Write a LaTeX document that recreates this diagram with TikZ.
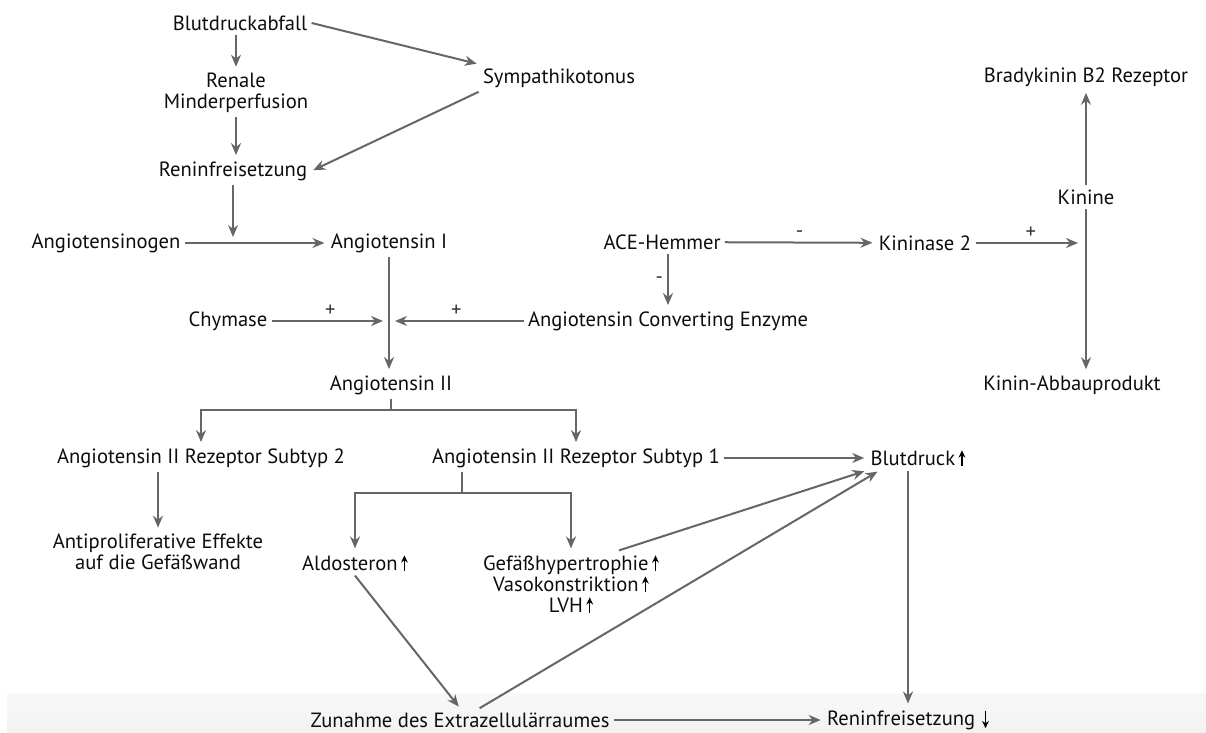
\documentclass[tikz,border=0pt]{standalone}
\usepackage{fontspec}
\setmainfont{PT Sans}
\usetikzlibrary{arrows.meta, positioning}

\newcommand{\hoch}{\,\tikz[baseline=0pt]\draw[black,line width=0.6pt,shorten >=0pt,shorten <=0pt,-{Stealth[length=3.6pt,width=3.4pt]}] (0pt,0pt) -- (0pt,7.6pt);}
\newcommand{\runter}{\,\tikz[baseline=0pt]\draw[black,line width=0.6pt,shorten >=0pt,shorten <=0pt,-{Stealth[length=3.6pt,width=3.4pt]}] (0pt,7.6pt) -- (0pt,-1.2pt);}

\begin{document}
\begin{tikzpicture}[x=0.5pt,y=-0.5pt,on grid,>={Stealth[length=6pt,width=5pt]},
        txt/.style={font=\fontsize{10.3}{10.5}\selectfont, text=black!95, inner sep=2pt, align=center},
        zeichen/.style={font=\fontsize{10.3}{10.5}\selectfont, text=black!80, inner sep=2pt},
        linie/.style={draw=black!60, line width=1pt},
        pfeil/.style={linie, ->, shorten >=1pt}]

      \useasboundingbox (0,0) rectangle (1206,733);
      \shade[top color=gray!5, bottom color=gray!10] (7,693) rectangle (1206,733);

      % Renin-Angiotensin-Kaskade
      \node[txt] (bda) at (240,23) {Blutdruckabfall};
      \node[txt, below=35pt of bda, xshift=-2pt] (ren) {Renale\\Minderperfusion};
      \node[txt] (rf) at (233,171) {Reninfreisetzung};
      \node[txt] (symp) at (559,78) {Sympathikotonus};
      \node[txt] (agen) at (106,243) {Angiotensinogen};
      \node[txt] (ang1) at (389,243) {Angiotensin I};
      \node[txt] (chym) at (228,321) {Chymase};
      \node[txt] (aceh) at (662,242) {ACE-Hemmer};
      \node[txt] (ace) at (668,321) {Angiotensin Converting Enzyme};
      \node[txt] (ang2) at (391,385) {Angiotensin II};

      % Kinine
      \node[txt] (kin2) at (925,243) {Kininase 2};
      \node[txt] (kinine) at (1086,197) {Kinine};
      \node[txt, above=60pt of kinine] (brady) {Bradykinin B2 Rezeptor};
      \node[txt, below=94pt of kinine, xshift=-7pt] (abbau) {Kinin-Abbauprodukt};

      % Rezeptoren und Folgen
      \node[txt] (at2) at (201,458) {Angiotensin II Rezeptor Subtyp 2};
      \node[txt] (at1) at (576,458) {Angiotensin II Rezeptor Subtyp 1};
      \node[txt] (bd) at (918,458) {Blutdruck\hoch};
      \node[txt] (anti) at (158,552) {Antiproliferative Effekte\\auf die Gefäßwand};
      \node[txt] (aldo) at (355,563) {Aldosteron\hoch};
      \node[txt] (gef) at (571,584) {Gefäßhypertrophie\hoch\\Vasokonstriktion\hoch\\LVH\hoch};
      \node[txt] (zun) at (460,720) {Zunahme des Extrazellulärraumes};
      \node[txt] (rf2) at (908,720) {Reninfreisetzung\,\runter};

      \coordinate (j1) at (rf |- ang1);
      \coordinate (j2) at (ang1 |- chym);
      \coordinate (j3) at (kinine |- kin2);
      \coordinate (b1) at (391,410);
      \coordinate (b2) at (462,493);

      \draw[pfeil] (bda.east) -- (symp.north west);
      \draw[pfeil] (symp.south west) -- (rf.east);
      \draw[pfeil] (bda.south -| ren) -- (ren);
      \draw[pfeil] (ren.south) -- (ren.south |- rf.north);
      \draw[pfeil, shorten >=3pt] (rf) -- (j1);
      \draw[pfeil] (agen) -- (ang1);
      \draw[pfeil] (ang1.south) -- (ang1.south |- ang2.north);
      \path (chym) edge[pfeil, shorten >=3pt] node[zeichen, above] {+} (j2)
            (ace) edge[pfeil, shorten >=3pt] node[zeichen, above] {+} (j2);
      \draw[pfeil] (aceh) -- node[zeichen, above] {-} (kin2);
      \draw[pfeil] (aceh.south -| ace) -- node[zeichen, left] {-} (ace.north);
      \draw[pfeil, shorten >=4pt] (kin2) -- node[zeichen, above] {+} (j3);
      \path (kinine) edge[pfeil] (brady)
            (kinine.south) edge[pfeil] (kinine.south |- abbau.north);

      \draw[linie] (ang2) -- (b1);
      \draw[pfeil] (b1) -| (at2);
      \draw[pfeil] (b1) -| (at1);
      \draw[pfeil] (at2.south -| anti) -- (anti);
      \draw[linie] (at1.south -| b2) -- (b2);
      \draw[pfeil] (b2) -| (aldo);
      \draw[pfeil] (b2) -| (gef);
      \draw[pfeil] (at1) -- (bd);
      \draw[pfeil] (gef.35) -- (bd.south west);
      \draw[pfeil] (zun.31) -- (bd.198);
      \draw[pfeil] (aldo.south) -- (zun.north);
      \draw[pfeil] (bd.south -| rf2) -- (rf2);
      \draw[pfeil] (zun) -- (rf2);
\end{tikzpicture}
\end{document}
